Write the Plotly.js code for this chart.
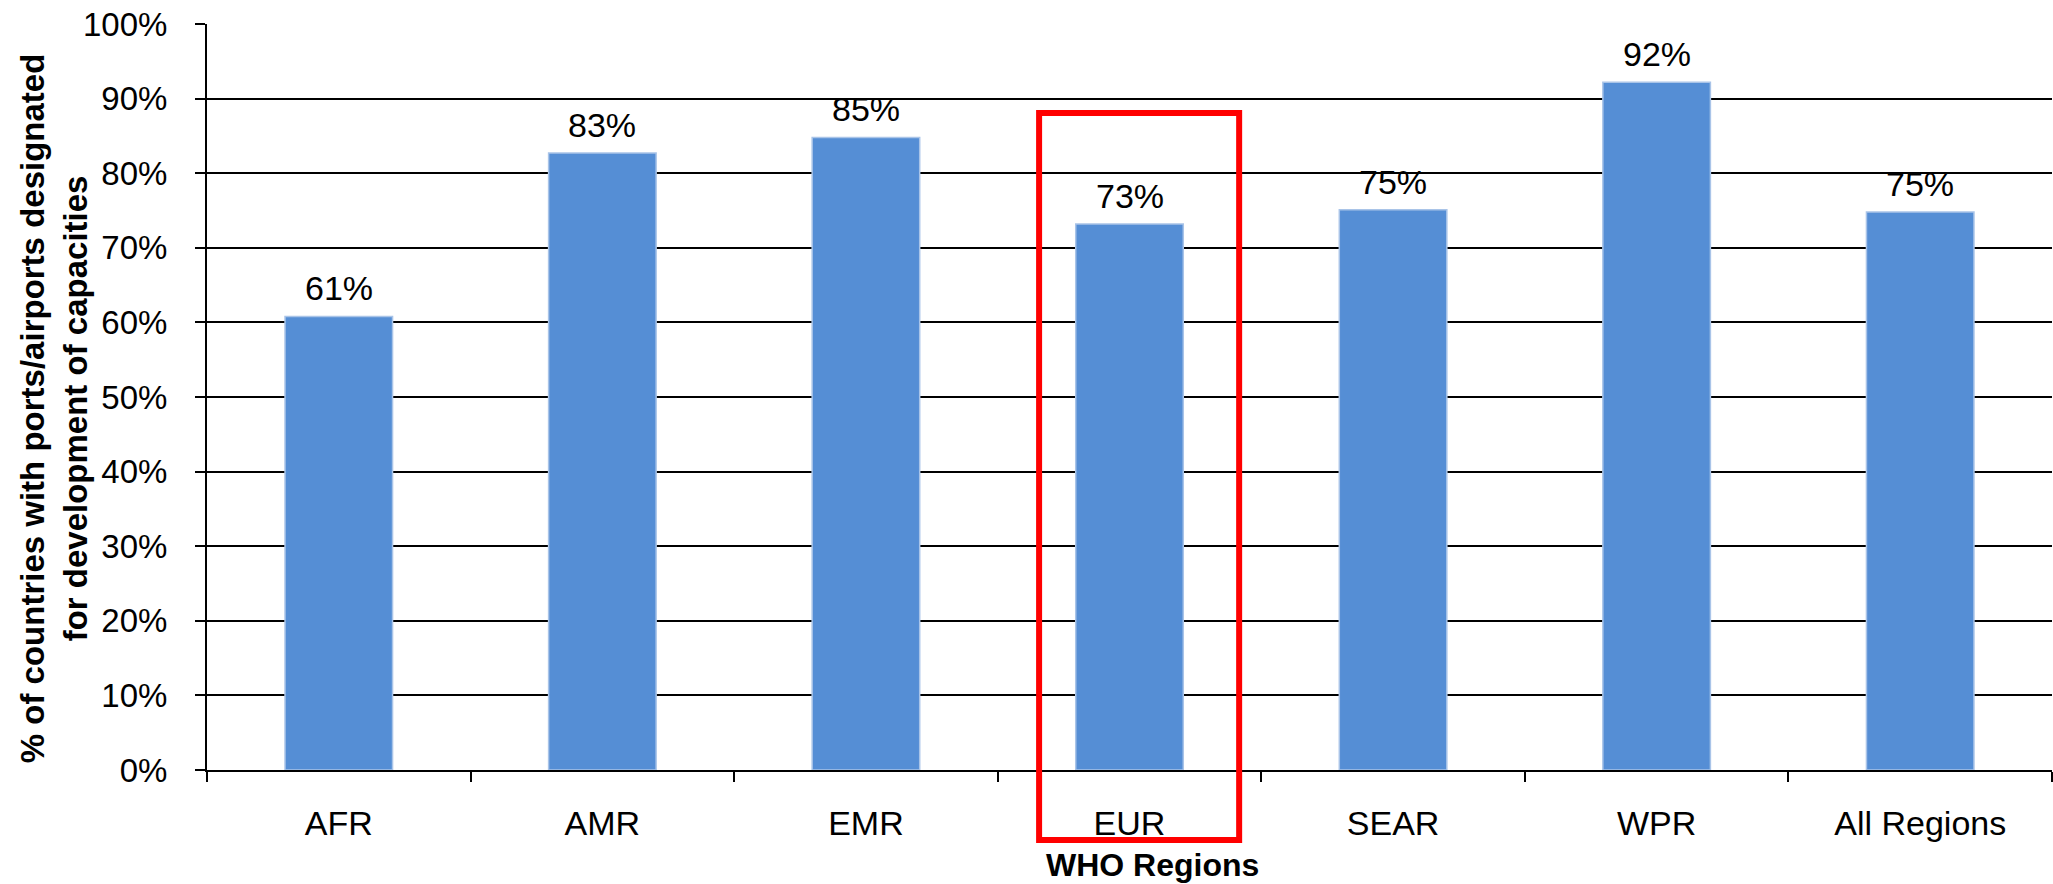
<!DOCTYPE html>
<html>
<head>
<meta charset="utf-8">
<script src="https://cdn.plot.ly/plotly-3.0.1.min.js"></script>
<style>
  html, body { margin: 0; padding: 0; background: #ffffff; }
  #chart { width: 2053px; height: 884px; }
</style>
</head>
<body>
<div id="chart"></div>
<script>
// ---- Data ----
const regions = ['AFR', 'AMR', 'EMR', 'EUR', 'SEAR', 'WPR', 'All Regions'];
const shares = [0.608, 0.827, 0.848, 0.732, 0.751, 0.922, 0.748];
const shareLabels = ['61%', '83%', '85%', '73%', '75%', '92%', '75%'];
const yTickValues = [0, 0.1, 0.2, 0.3, 0.4, 0.5, 0.6, 0.7, 0.8, 0.9, 1.0];
const yTickLabels = ['0%', '10%', '20%', '30%', '40%', '50%', '60%', '70%', '80%', '90%', '100%'];
const highlighted = 'EUR';

const FONT = '"Liberation Sans", Arial, Helvetica, sans-serif';

const trace = {
  type: 'bar',
  x: regions,
  y: shares,
  marker: {
    color: '#558ED5',
    line: { color: '#A9C4E8', width: 1.5 }
  },
  hoverinfo: 'x+y'
};

const labelAnnotations = regions.map((r, i) => ({
  x: r,
  y: shares[i],
  xref: 'x',
  yref: 'y',
  text: shareLabels[i],
  showarrow: false,
  xanchor: 'center',
  yanchor: 'bottom',
  yshift: 7,
  font: { family: FONT, size: 34, color: '#000000' }
}));

// Highlight box around the chosen region (category index)
const hiIdx = regions.indexOf(highlighted);

const layout = {
  width: 2053,
  height: 884,
  margin: { l: 207, r: 1, t: 24, b: 114 },
  paper_bgcolor: '#ffffff',
  plot_bgcolor: '#ffffff',
  showlegend: false,
  bargap: 0.592,
  font: { family: FONT, color: '#000000' },
  xaxis: {
    type: 'category',
    categoryorder: 'array',
    categoryarray: regions,
    showline: true,
    linecolor: '#000000',
    linewidth: 2,
    ticks: 'outside',
    tickson: 'boundaries',
    ticklen: 10,
    tickwidth: 2,
    tickcolor: '#000000',
    showgrid: false,
    zeroline: false,
    ticklabelstandoff: 22,
    tickfont: { family: FONT, size: 34, color: '#000000' },
    fixedrange: true
  },
  yaxis: {
    range: [0, 1],
    tickvals: yTickValues,
    ticktext: yTickLabels,
    showline: true,
    linecolor: '#000000',
    linewidth: 2,
    ticks: 'outside',
    ticklen: 10,
    tickwidth: 2,
    tickcolor: '#000000',
    showgrid: true,
    gridcolor: '#000000',
    gridwidth: 2,
    zeroline: false,
    ticklabelstandoff: 21,
    tickfont: { family: FONT, size: 33, color: '#000000' },
    fixedrange: true
  },
  annotations: labelAnnotations.concat([
    {
      xref: 'paper', yref: 'paper',
      x: -0.0829, y: 0.485,
      xanchor: 'center', yanchor: 'middle',
      textangle: -90,
      showarrow: false,
      align: 'center',
      text: '<b>% of countries with ports/airports designated<br>for development of capacities</b>',
      font: { family: FONT, size: 33, color: '#000000' }
    },
    {
      xref: 'paper', yref: 'paper',
      x: 0.5122, y: -0.1273,
      xanchor: 'center', yanchor: 'middle',
      showarrow: false,
      text: '<b>WHO Regions</b>',
      font: { family: FONT, size: 32, color: '#000000' }
    }
  ]),
  shapes: [
    {
      type: 'rect',
      xref: 'x', yref: 'paper',
      x0: hiIdx - 0.343, x1: hiIdx + 0.416,
      y0: -0.0938, y1: 0.8807,
      line: { color: '#FF0000', width: 6 },
      fillcolor: 'rgba(0,0,0,0)',
      layer: 'above'
    }
  ]
};

Plotly.newPlot('chart', [trace], layout, { displayModeBar: false, staticPlot: true });
</script>
</body>
</html>
